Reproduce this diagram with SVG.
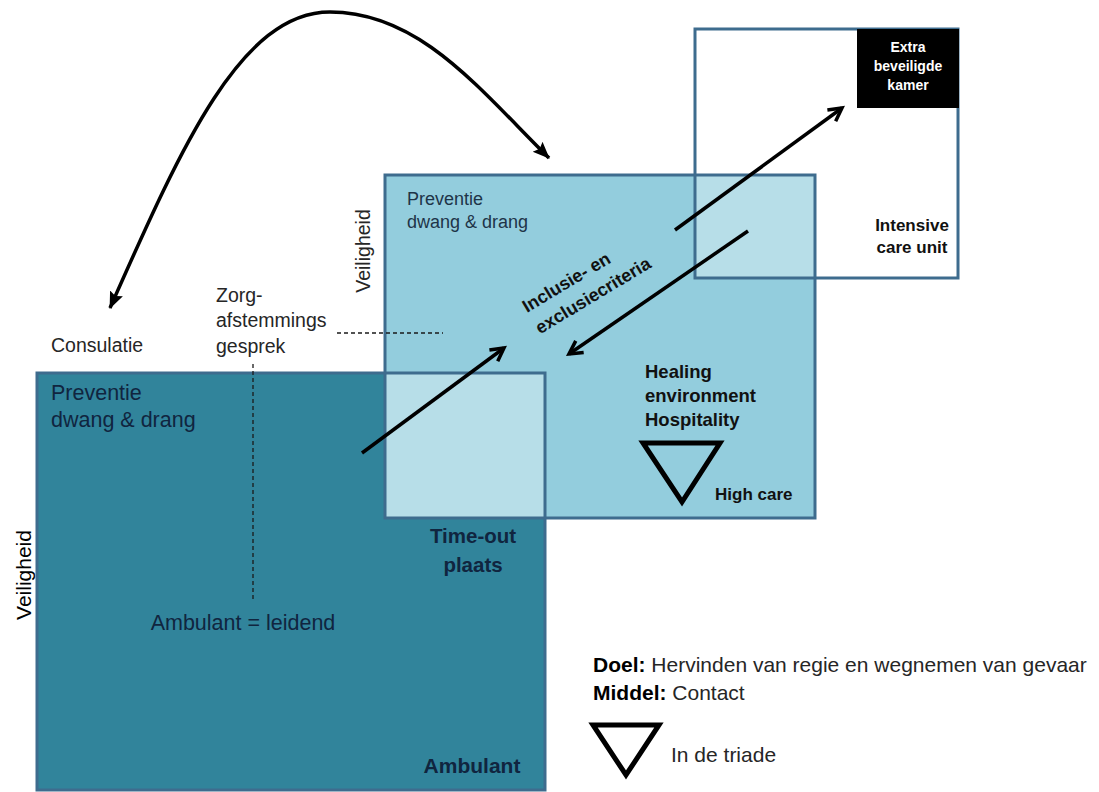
<svg xmlns="http://www.w3.org/2000/svg" width="1099" height="792" viewBox="0 0 1099 792">
  <style>
    text { font-family: "Liberation Sans", Arial, sans-serif; }
    .box { stroke: #3E6C8E; stroke-width: 3; }
    .outline { fill: none; stroke: #3E6C8E; stroke-width: 3; }
    .plain { fill: #262626; font-size: 19.5px; }
    .bold { font-weight: bold; fill: #111111; }
    .navy { fill: #10253F; }
    .slate { fill: #1E3448; font-size: 18px; }
    .conn { fill: none; stroke: #000; stroke-width: 3.5; }
    .dash { fill: none; stroke: #1a1a1a; stroke-width: 1.3; stroke-dasharray: 4 3; }
    .tri { fill: none; stroke: #000; stroke-width: 5; stroke-linejoin: miter; }
  </style>
  <defs>
    <marker id="open" markerUnits="userSpaceOnUse" markerWidth="20" markerHeight="20" refX="15" refY="9" orient="auto">
      <path d="M2,2 L15,9 L2,16" fill="none" stroke="#000" stroke-width="3.5" stroke-linejoin="miter"/>
    </marker>
    <marker id="solid" markerUnits="userSpaceOnUse" markerWidth="20" markerHeight="16" refX="16" refY="7" orient="auto-start-reverse">
      <path d="M0,0 L17,7 L0,14 L3,7 Z" fill="#000"/>
    </marker>
  </defs>

  <!-- Ambulant (dark) -->
  <g id="ambulant">
    <rect x="37" y="373" width="508" height="417" fill="#31849B"/>
    <text x="51" y="400" class="navy" style="font-size:21.5px">Preventie</text>
    <text x="51" y="427" class="navy" style="font-size:21.5px">dwang &amp; drang</text>
    <text x="243" y="630" class="navy" style="font-size:21.5px" text-anchor="middle">Ambulant = leidend</text>
    <text x="472" y="773" class="navy" style="font-size:21px;font-weight:bold" text-anchor="middle">Ambulant</text>
    <text x="473" y="543" class="navy" style="font-size:20.5px;font-weight:bold" text-anchor="middle">Time-out</text>
    <text x="473" y="572" class="navy" style="font-size:20.5px;font-weight:bold" text-anchor="middle">plaats</text>
  </g>

  <!-- High care (medium) -->
  <g id="highcare">
    <rect x="385" y="175" width="430" height="343" fill="#93CDDD"/>
  </g>

  <!-- Intensive care unit -->
  <g id="icu">
    <rect x="695" y="29" width="263" height="249" fill="#FFFFFF"/>
  </g>

  <!-- overlaps -->
  <g id="overlaps">
    <rect x="385" y="373" width="160" height="145" fill="#B7DEE8"/>
    <rect x="695" y="175" width="120" height="103" fill="#B7DEE8"/>
  </g>

  <!-- outlines -->
  <g id="outlines">
    <rect x="37" y="373" width="508" height="417" class="outline"/>
    <rect x="385" y="175" width="430" height="343" class="outline"/>
    <rect x="695" y="29" width="263" height="249" class="outline"/>
  </g>

  <!-- Extra beveiligde kamer -->
  <g id="ebk">
    <rect x="857" y="29" width="102" height="79" fill="#000"/>
    <text x="908" y="52" fill="#fff" font-weight="bold" font-size="14" text-anchor="middle">Extra</text>
    <text x="908" y="71" fill="#fff" font-weight="bold" font-size="14" text-anchor="middle">beveiligde</text>
    <text x="908" y="90" fill="#fff" font-weight="bold" font-size="14" text-anchor="middle">kamer</text>
  </g>

  <!-- labels medium -->
  <g id="highcare-labels">
    <text x="407" y="205" class="slate">Preventie</text>
    <text x="407" y="228" class="slate">dwang &amp; drang</text>
    <g transform="translate(527,313) rotate(-31)">
      <text x="0" y="0" class="bold" font-size="18">Inclusie- en</text>
      <text x="0" y="25" class="bold" font-size="18">exclusiecriteria</text>
    </g>
    <text x="645" y="378" class="bold" font-size="18.5">Healing</text>
    <text x="645" y="402" class="bold" font-size="18.5">environment</text>
    <text x="645" y="426" class="bold" font-size="18.5">Hospitality</text>
    <polygon points="643,443 720,443 682,502" class="tri"/>
    <text x="715" y="500" class="bold" font-size="17">High care</text>
  </g>

  <g id="icu-labels">
    <text x="912" y="231" class="bold" font-size="17" text-anchor="middle">Intensive</text>
    <text x="912" y="253" class="bold" font-size="17" text-anchor="middle">care unit</text>
  </g>

  <!-- outside labels -->
  <g id="outside-labels">
    <text x="51" y="352" class="plain">Consulatie</text>
    <text x="216" y="302" class="plain">Zorg-</text>
    <text x="216" y="327" class="plain">afstemmings</text>
    <text x="216" y="353" class="plain">gesprek</text>
    <text transform="translate(370,251) rotate(-90)" class="plain" font-size="19.5" text-anchor="middle">Veiligheid</text>
    <text transform="translate(31,575) rotate(-90)" fill="#000" font-size="21" text-anchor="middle">Veiligheid</text>
  </g>

  <!-- legend -->
  <g id="legend">
    <text x="593" y="672" fill="#262626" font-size="21"><tspan font-weight="bold" fill="#000">Doel:</tspan> Hervinden van regie en wegnemen van gevaar</text>
    <text x="593" y="700" fill="#262626" font-size="21"><tspan font-weight="bold" fill="#000">Middel:</tspan> Contact</text>
    <polygon points="593,725 659,725 626,775" class="tri"/>
    <text x="671" y="762" fill="#262626" font-size="21">In de triade</text>
  </g>

  <!-- connectors -->
  <g id="connectors">
    <path d="M110 308 C180 150, 240 12, 330 12 C420 12, 480 90, 549 158" class="conn" stroke-width="3" marker-start="url(#solid)" marker-end="url(#solid)"/>
    <line x1="362" y1="453" x2="504" y2="348" class="conn" marker-end="url(#open)"/>
    <line x1="675" y1="230" x2="842" y2="108" class="conn" marker-end="url(#open)"/>
    <line x1="748" y1="231" x2="569" y2="354" class="conn" marker-end="url(#open)"/>
    <line x1="337" y1="333" x2="443" y2="333" class="dash"/>
    <line x1="253" y1="364" x2="253" y2="600" class="dash"/>
  </g>
</svg>
